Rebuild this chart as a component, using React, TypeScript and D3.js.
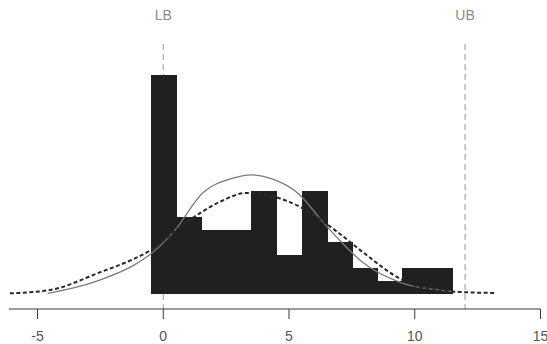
import React, { useEffect, useRef } from 'react';
import * as d3 from 'd3';

// histogram: bins of width 1 centred on integers
const binStarts = [-0.5, 0.5, 1.5, 2.5, 3.5, 4.5, 5.5, 6.5, 7.5, 8.5, 9.5, 10.5];
const binCounts = [17, 6, 5, 5, 8, 3, 8, 4, 2, 1, 2, 2];

// fitted curves (x, count scale)
const solidX = [-4.6, -3.6, -2.5, -1.2, -0.5, 0.4, 1.6, 2.7, 3.5, 4.3, 5.4, 6.3, 7.0, 7.9, 9.5, 11.0, 11.6];
const solidY = [0.05, 0.45, 1.1, 2.2, 3.1, 4.8, 7.9, 8.95, 9.25, 8.95, 7.75, 5.7, 4.2, 2.5, 0.85, 0.3, 0.15];
const dashedX = [-6.1, -4.5, -2.5, -1.2, -0.5, 0.6, 1.4, 2.3, 3.3, 4.3, 5.4, 6.3, 7.0, 7.9, 9.5, 10.3, 11.8, 13.2];
const dashedY = [0.05, 0.31, 1.7, 2.7, 3.4, 5.1, 6.2, 7.2, 7.84, 7.6, 6.8, 5.7, 4.7, 3.3, 1.1, 0.47, 0.16, 0.08];

const xTicks = [-5, 0, 5, 10, 15];
const bounds = [
  { label: 'LB', value: 0 },
  { label: 'UB', value: 12 },
];

const App = () => {
  const svgRef = useRef<SVGSVGElement>(null);
  const width = 547;
  const height = 344;

  useEffect(() => {
    const svg = d3.select(svgRef.current);
    svg.selectAll('*').remove();

    const x = d3.scaleLinear().domain([-5, 15]).range([37.5, 540.5]);
    const y = d3.scaleLinear().domain([0, 17]).range([294, 75]);
    const axisY = 309;
    const font = 'Liberation Sans, Arial, sans-serif';

    // bound lines (under the bars)
    svg
      .selectAll('line.bound')
      .data(bounds)
      .join('line')
      .attr('class', 'bound')
      .attr('x1', (d) => x(d.value))
      .attr('x2', (d) => x(d.value))
      .attr('y1', 44)
      .attr('y2', axisY)
      .attr('stroke', '#9a9a9a')
      .attr('stroke-width', 1)
      .attr('stroke-dasharray', '6,4');

    svg
      .selectAll('text.bound')
      .data(bounds)
      .join('text')
      .attr('class', 'bound')
      .attr('x', (d) => x(d.value))
      .attr('y', 20)
      .attr('text-anchor', 'middle')
      .attr('font-family', font)
      .attr('font-size', 14)
      .attr('fill', '#8a8a8a')
      .text((d) => d.label);

    // bars
    svg
      .selectAll('rect.bar')
      .data(binCounts)
      .join('rect')
      .attr('class', 'bar')
      .attr('x', (d, i) => Math.round(x(binStarts[i])))
      .attr('y', (d) => Math.round(y(d)))
      .attr('width', (d, i) => Math.round(x(binStarts[i] + 1)) - Math.round(x(binStarts[i])) + 1)
      .attr('height', (d) => Math.round(y(0)) - Math.round(y(d)))
      .attr('fill', '#202020')
      .attr('shape-rendering', 'crispEdges');

    const solidPts = solidX.map((v, i) => [x(v), y(solidY[i])] as [number, number]);
    const dashedPts = dashedX.map((v, i) => [x(v), y(dashedY[i])] as [number, number]);

    svg
      .append('path')
      .attr('d', d3.line().curve(d3.curveMonotoneX)(solidPts))
      .attr('fill', 'none')
      .attr('stroke', '#7a7a7a')
      .attr('stroke-width', 1.3);

    svg
      .append('path')
      .attr('d', d3.line().curve(d3.curveMonotoneX)(dashedPts))
      .attr('fill', 'none')
      .attr('stroke', '#2a2a2a')
      .attr('stroke-width', 2)
      .attr('stroke-dasharray', '4,2.5');

    // x axis
    const axis = svg.append('g').attr('transform', `translate(0,${axisY})`);
    axis
      .append('line')
      .attr('x1', 9)
      .attr('x2', x(15))
      .attr('stroke', '#3a3a3a')
      .attr('stroke-width', 1);
    axis
      .selectAll('line.tick')
      .data(xTicks)
      .join('line')
      .attr('class', 'tick')
      .attr('x1', (d) => x(d))
      .attr('x2', (d) => x(d))
      .attr('y1', 0)
      .attr('y2', 10)
      .attr('stroke', '#3a3a3a');
    axis
      .selectAll('text')
      .data(xTicks)
      .join('text')
      .attr('x', (d) => x(d))
      .attr('y', 32)
      .attr('text-anchor', 'middle')
      .attr('font-family', font)
      .attr('font-size', 14)
      .attr('fill', '#555')
      .text((d) => d);
  }, []);

  return (
    <svg
      ref={svgRef}
      width={width}
      height={height}
      style={{ position: 'absolute', left: 0, top: 0, background: '#fff' }}
    />
  );
};

export default App;
